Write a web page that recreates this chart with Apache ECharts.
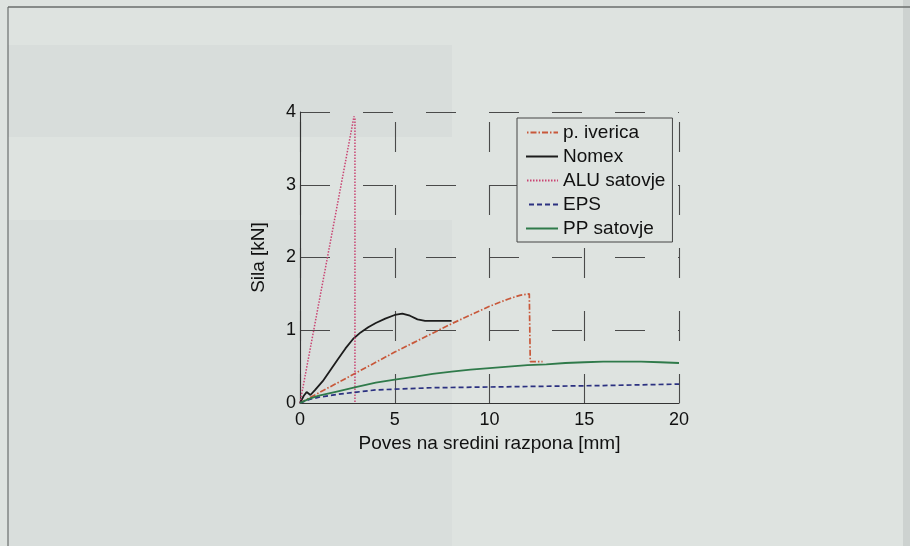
<!DOCTYPE html>
<html>
<head>
<meta charset="utf-8">
<title>Sila – poves</title>
<script src="https://cdn.jsdelivr.net/npm/echarts@6/dist/echarts.min.js"></script>
<style>
  html, body { margin: 0; padding: 0; background: #dee3e0; }
  #chart { width: 910px; height: 546px; }
</style>
</head>
<body>
<div id="chart"></div>
<script>
// Force–deflection curves, [poves mm, sila kN]
const seriesNames = ['p. iverica', 'Nomex', 'ALU satovje', 'EPS', 'PP satovje'];

const ivericaData = [
  [0, 0], [1, 0.14], [2, 0.28], [3, 0.42], [4, 0.56], [5, 0.70], [6, 0.83],
  [7, 0.96], [8, 1.09], [9, 1.21], [10, 1.33], [11, 1.43], [11.6, 1.48],
  [12.1, 1.50], [12.15, 0.57], [12.8, 0.57]
];
const nomexData = [
  [0, 0], [0.2, 0.1], [0.35, 0.15], [0.55, 0.11], [0.8, 0.18], [1.2, 0.3],
  [1.6, 0.45], [2, 0.6], [2.4, 0.75], [2.8, 0.88], [3.2, 0.97], [3.6, 1.04],
  [4, 1.1], [4.5, 1.16], [5, 1.21], [5.4, 1.23], [5.8, 1.2], [6.2, 1.15],
  [6.6, 1.13], [8, 1.13]
];
const aluData = [
  [0, 0], [2.85, 3.94], [2.9, 3.9], [2.9, 0]
];
const epsData = [
  [0, 0], [0.5, 0.05], [1, 0.08], [2, 0.12], [3, 0.15], [4, 0.18], [5, 0.19],
  [7, 0.21], [10, 0.22], [13, 0.23], [16, 0.24], [18, 0.25], [20, 0.26]
];
const ppData = [
  [0, 0], [0.5, 0.06], [1, 0.1], [2, 0.16], [3, 0.22], [4, 0.28], [5, 0.32],
  [6, 0.36], [7, 0.4], [8, 0.43], [9, 0.46], [10, 0.48], [11, 0.5], [12, 0.52],
  [13, 0.53], [14, 0.55], [15, 0.56], [16, 0.57], [17, 0.57], [18, 0.57],
  [19, 0.56], [20, 0.55]
];

const xTicks = { min: 0, max: 20, interval: 5 };
const yTicks = { min: 0, max: 4, interval: 1 };

const FONT = '"Liberation Sans", Arial, Helvetica, sans-serif';
const gridDash = { color: '#4a4a4a', width: 1.1, type: [30, 33] };

const chart = echarts.init(document.getElementById('chart'), null, { renderer: 'canvas' });

function line(name, data, color, type, width) {
  return {
    name: name,
    type: 'line',
    data: data,
    symbol: 'none',
    smooth: false,
    animation: false,
    lineStyle: { color: color, width: width, type: type },
    itemStyle: { color: color },
    z: 3
  };
}

function panel(x, y, w, h, fill) {
  return { type: 'rect', shape: { x: x, y: y, width: w, height: h },
    style: { fill: fill }, z: -10, silent: true };
}

chart.setOption({
  backgroundColor: '#dee3e0',
  animation: false,
  textStyle: { fontFamily: FONT },
  graphic: [
    // page panels behind the figure
    panel(8, 45, 444, 92, '#d8dddb'),
    panel(8, 220, 444, 326, '#d9dedc'),
    panel(903, 0, 7, 546, '#cdd2d0'),
    { type: 'line', shape: { x1: 8, y1: 7, x2: 910, y2: 7 },
      style: { stroke: '#6a6e6d', lineWidth: 1.5 }, z: -9, silent: true },
    { type: 'line', shape: { x1: 8, y1: 7, x2: 8, y2: 546 },
      style: { stroke: '#6a6e6d', lineWidth: 1.2 }, z: -9, silent: true }
  ],
  grid: { left: 300, right: 231, top: 112, bottom: 143, containLabel: false },
  legend: {
    orient: 'vertical',
    left: 517,
    top: 118,
    data: seriesNames,
    itemWidth: 32,
    itemHeight: 12,
    itemGap: 5,
    padding: [5, 7, 4, 8],
    borderColor: '#444',
    borderWidth: 1,
    backgroundColor: '#dee3e0',
    itemStyle: { opacity: 0, borderWidth: 0 },
    textStyle: { fontSize: 19, color: '#111', fontFamily: FONT }
  },
  xAxis: {
    type: 'value',
    min: xTicks.min, max: xTicks.max, interval: xTicks.interval,
    name: 'Poves na sredini razpona [mm]',
    nameLocation: 'middle',
    nameGap: 29,
    nameTextStyle: { fontSize: 19, color: '#111', fontFamily: FONT },
    axisLine: { show: true, onZero: false, lineStyle: { color: '#333', width: 1.1 } },
    axisTick: { show: false },
    axisLabel: { fontSize: 18, color: '#111', margin: 8, fontFamily: FONT },
    splitLine: { show: true, lineStyle: Object.assign({}, gridDash, { dashOffset: 53 }) }
  },
  yAxis: {
    type: 'value',
    min: yTicks.min, max: yTicks.max, interval: yTicks.interval,
    name: 'Sila [kN]',
    nameLocation: 'middle',
    nameGap: 32,
    nameRotate: 90,
    nameTextStyle: { fontSize: 19, color: '#111', fontFamily: FONT },
    axisLine: { show: true, onZero: false, lineStyle: { color: '#333', width: 1.1 } },
    axisTick: { show: false },
    axisLabel: { fontSize: 18, color: '#111', margin: 4, fontFamily: FONT,
      formatter: v => String(v) },
    splitLine: { show: true, lineStyle: gridDash }
  },
  series: [
    line('p. iverica', ivericaData, '#c8583a', [6, 2, 1.5, 2], 1.7),
    line('Nomex', nomexData, '#1c1c1c', 'solid', 1.8),
    line('ALU satovje', aluData, '#c94472', [1.5, 1.5], 1.5),
    line('EPS', epsData, '#2b3180', [5, 3], 1.7),
    line('PP satovje', ppData, '#2f7a4a', 'solid', 1.8)
  ]
});
</script>
</body>
</html>
